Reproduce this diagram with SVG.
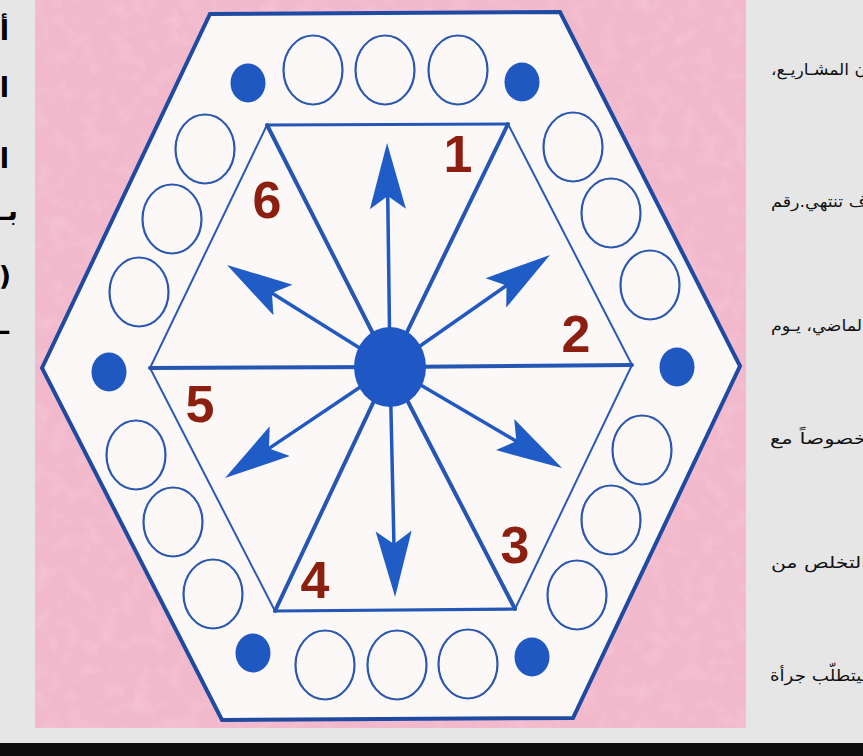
<svg xmlns="http://www.w3.org/2000/svg" width="863" height="756" viewBox="0 0 863 756">
<defs>
<style>
.hole{fill:none;stroke:#2a58b0;stroke-width:2.2}
.dot{fill:#1f58c0}
.spoke{stroke:#2456b4;stroke-width:4;stroke-linecap:round}
.thin{stroke:#2a5ab4;stroke-width:2;fill:none}
.thick{stroke:#2456b4;stroke-width:3.2;fill:none}
.shaft{stroke:#2158c2;stroke-width:3.5;fill:none}
.num{font-family:"Liberation Sans",Arial,sans-serif;font-weight:bold;font-size:52px;fill:#8c1f10;text-anchor:middle}
.ar{font-family:"DejaVu Sans",sans-serif;font-size:16px;fill:#111}
.arb{font-family:"DejaVu Sans",sans-serif;font-weight:bold;font-size:27px;fill:#000}
</style>
<filter id="paper" x="0" y="0" width="100%" height="100%">
<feTurbulence type="fractalNoise" baseFrequency="0.06" numOctaves="3" seed="7" result="noise"/>
<feColorMatrix in="noise" type="matrix" values="0 0 0 0 0.93  0 0 0 0 0.62  0 0 0 0 0.72  0.9 0 0 0 -0.35" result="spots"/>
<feComposite in="spots" in2="SourceGraphic" operator="in" result="clipped"/>
<feMerge><feMergeNode in="SourceGraphic"/><feMergeNode in="clipped"/></feMerge>
</filter>
<marker id="head" markerUnits="userSpaceOnUse" viewBox="-66 -19 66 38" refX="-50" refY="0" markerWidth="66" markerHeight="38" orient="auto">
<path d="M0,0 L-66,-18 L-53,0 L-66,18 Z" fill="#1f5cc6"/>
</marker>
</defs>

<g id="page">
<rect x="0" y="0" width="863" height="756" fill="#e6e6e6"/>
<rect x="35" y="0" width="711" height="728" fill="#f2b8cb" filter="url(#paper)"/>
<rect x="0" y="743" width="863" height="13" fill="#0d0d0d"/>
</g>

<g id="left-text">
<text class="arb" x="9" y="40" direction="rtl">أ</text>
<text class="arb" x="9" y="97" direction="rtl">ا</text>
<text class="arb" x="9" y="168" direction="rtl">ا</text>
<text class="arb" x="18" y="220" direction="rtl">بـ</text>
<text class="arb" x="11" y="285" direction="rtl">(</text>
<text class="arb" x="9" y="334" direction="rtl">ـ</text>
</g>

<g id="right-text">
<text class="ar" x="867" y="75" direction="rtl" textLength="96" lengthAdjust="spacingAndGlyphs">ن المشـاريـع،</text>
<text class="ar" x="867" y="207" direction="rtl" textLength="96" lengthAdjust="spacingAndGlyphs">ف تنتهي.رقم</text>
<text class="ar" x="867" y="331" direction="rtl" textLength="96" lengthAdjust="spacingAndGlyphs">الماضي، يـوم</text>
<text class="ar" x="867" y="444" direction="rtl" textLength="97" lengthAdjust="spacingAndGlyphs">خصوصاً مع</text>
<text class="ar" x="867" y="568" direction="rtl" textLength="96" lengthAdjust="spacingAndGlyphs">التخلص من</text>
<text class="ar" x="867" y="681" direction="rtl" textLength="97" lengthAdjust="spacingAndGlyphs">ـيتطلّب جرأة</text>
</g>

<g id="outer-hexagon">
<polygon points="42,368 210,14 560,12 740,366 573,718 222,720" fill="#fdf8f8" stroke="#1f4aa2" stroke-width="4" stroke-linejoin="miter"/>
</g>

<g id="inner-hexagon">
<polyline class="thin" points="267,125 150,368 275,611"/>
<polyline class="thin" points="508,124 632,365 515,609"/>
<line class="thick" x1="267" y1="125" x2="508" y2="124"/>
<line class="thick" x1="275" y1="611" x2="515" y2="609"/>
</g>

<g id="spokes">
<line class="spoke" x1="390" y1="367" x2="267" y2="125"/>
<line class="spoke" x1="390" y1="367" x2="508" y2="124"/>
<line class="spoke" x1="390" y1="367" x2="632" y2="365"/>
<line class="spoke" x1="390" y1="367" x2="515" y2="609"/>
<line class="spoke" x1="390" y1="367" x2="275" y2="611"/>
<line class="spoke" x1="390" y1="367" x2="150" y2="368"/>
</g>

<g id="arrows">
<line class="shaft" x1="390" y1="367" x2="387.7" y2="193" marker-end="url(#head)"/>
<line class="shaft" x1="390" y1="367" x2="394" y2="547" marker-end="url(#head)"/>
<line class="shaft" x1="390" y1="367" x2="509" y2="283.7" marker-end="url(#head)"/>
<line class="shaft" x1="390" y1="367" x2="269.4" y2="291.5" marker-end="url(#head)"/>
<line class="shaft" x1="390" y1="367" x2="518.9" y2="442.7" marker-end="url(#head)"/>
<line class="shaft" x1="390" y1="367" x2="266.5" y2="450.1" marker-end="url(#head)"/>
</g>

<g id="center">
<ellipse cx="390" cy="367" rx="36" ry="40" fill="#1f58c4"/>
</g>

<g id="holes">
<ellipse class="hole" cx="313" cy="70" rx="29.5" ry="34.5"/>
<ellipse class="hole" cx="385" cy="70" rx="29.5" ry="34.5"/>
<ellipse class="hole" cx="458" cy="70" rx="29.5" ry="34.5"/>
<ellipse class="hole" cx="205" cy="149" rx="29.5" ry="34.5"/>
<ellipse class="hole" cx="172" cy="219" rx="29.5" ry="34.5"/>
<ellipse class="hole" cx="139" cy="292" rx="29.5" ry="34.5"/>
<ellipse class="hole" cx="136" cy="455" rx="29.5" ry="34.5"/>
<ellipse class="hole" cx="173" cy="522" rx="29.5" ry="34.5"/>
<ellipse class="hole" cx="213" cy="594" rx="29.5" ry="34.5"/>
<ellipse class="hole" cx="325" cy="665" rx="29.5" ry="34.5"/>
<ellipse class="hole" cx="397" cy="665" rx="29.5" ry="34.5"/>
<ellipse class="hole" cx="468" cy="664" rx="29.5" ry="34.5"/>
<ellipse class="hole" cx="577" cy="595" rx="29.5" ry="34.5"/>
<ellipse class="hole" cx="611" cy="520" rx="29.5" ry="34.5"/>
<ellipse class="hole" cx="642" cy="450" rx="29.5" ry="34.5"/>
<ellipse class="hole" cx="650" cy="285" rx="29.5" ry="34.5"/>
<ellipse class="hole" cx="611" cy="213" rx="29.5" ry="34.5"/>
<ellipse class="hole" cx="573" cy="147" rx="29.5" ry="34.5"/>
</g>

<g id="dots">
<ellipse class="dot" cx="248" cy="83" rx="17.5" ry="19.5"/>
<ellipse class="dot" cx="522" cy="82" rx="17.5" ry="19.5"/>
<ellipse class="dot" cx="109" cy="372" rx="17.5" ry="19.5"/>
<ellipse class="dot" cx="677" cy="367" rx="17.5" ry="19.5"/>
<ellipse class="dot" cx="253" cy="653" rx="17.5" ry="19.5"/>
<ellipse class="dot" cx="532" cy="657" rx="17.5" ry="19.5"/>
</g>

<g id="labels">
<text class="num" x="458" y="172">1</text>
<text class="num" x="576" y="352">2</text>
<text class="num" x="515" y="563">3</text>
<text class="num" x="315" y="598">4</text>
<text class="num" x="200" y="422">5</text>
<text class="num" x="267" y="218">6</text>
</g>
</svg>
